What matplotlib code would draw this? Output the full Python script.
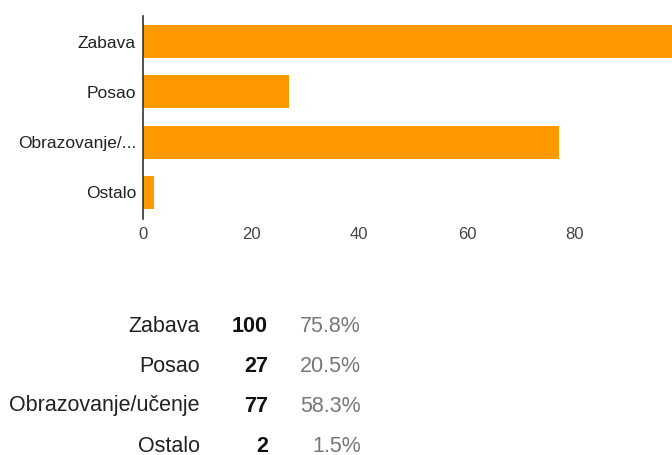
import matplotlib
matplotlib.use('Agg')
import matplotlib.pyplot as plt

categories = ['Zabava', 'Posao', 'Obrazovanje/učenje', 'Ostalo']
axis_labels = ['Zabava', 'Posao', 'Obrazovanje/...', 'Ostalo']
counts = [100, 27, 77, 2]
percents = ['75.8%', '20.5%', '58.3%', '1.5%']
x_ticks = [0, 20, 40, 60, 80]

plt.rcParams['font.family'] = ['Liberation Sans', 'DejaVu Sans']

W, H = 672, 455
fig = plt.figure(figsize=(W / 100, H / 100), dpi=100)

# bar chart area (pixel coords -> figure fraction)
left, right, top, bottom = 143, 672, 16, 219
ax = fig.add_axes([left / W, 1 - bottom / H, (right - left) / W, (bottom - top) / H])

ypos = list(range(len(categories)))
ax.barh(ypos, counts, height=0.66, color='#FF9900')
ax.set_xlim(0, 98.0)
ax.set_ylim(3.53, -0.51)

ax.set_yticks(ypos)
ax.set_yticklabels(axis_labels, fontsize=12.5, color='#222222')
ax.set_xticks(x_ticks)
ax.set_xticklabels([str(t) for t in x_ticks], fontsize=12, color='#444444')
ax.tick_params(axis='y', length=0, pad=5)
ax.tick_params(axis='x', length=0, pad=6)

for side in ['top', 'right', 'bottom']:
    ax.spines[side].set_visible(False)
ax.spines['left'].set_color('#333333')
ax.spines['left'].set_linewidth(1.2)

# summary table under the chart
row_y = [326, 366, 406, 446]
for name, n, p, y in zip(categories, counts, percents, row_y):
    fy = 1 - y / H
    fig.text(200 / W, fy, name, ha='right', va='center', fontsize=15.5, color='#222222')
    fig.text(268 / W, fy, str(n), ha='right', va='center', fontsize=15.5,
             fontweight='bold', color='#111111')
    fig.text(361 / W, fy, p, ha='right', va='center', fontsize=15.5, color='#777777')

plt.savefig('out.png', dpi=100)
